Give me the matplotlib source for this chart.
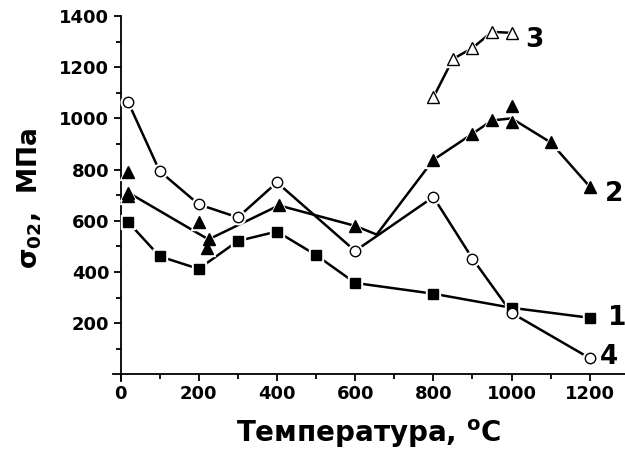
import numpy as np
import matplotlib
matplotlib.use('agg')
import matplotlib.pyplot as plt

plt.rcParams['font.family'] = ['DejaVu Sans']
plt.rcParams['font.weight'] = 'bold'
plt.rcParams['mathtext.default'] = 'bf'

# curve 1: filled squares
t1 = [20, 100, 200, 300, 400, 500, 600, 800, 1000, 1200]
s1 = [594, 461, 412, 521, 558, 466, 357, 315, 260, 221]

# curve 2: filled triangles (line vertices)
t2_line = [20, 225, 405, 600, 655, 800, 900, 950, 1000, 1100, 1200]
s2_line = [710, 527, 660, 580, 546, 838, 940, 992, 1000, 906, 733]
# curve 2: triangle markers
t2_pts = [20, 20, 20, 200, 225, 220, 405, 600, 800, 900, 950, 1000, 1000, 1100, 1200]
s2_pts = [790, 710, 698, 597, 527, 494, 660, 580, 838, 940, 992, 1050, 986, 906, 733]

# curve 3: open triangles
t3 = [800, 850, 900, 950, 1000]
s3 = [1082, 1232, 1275, 1338, 1334]

# curve 4: open circles
t4 = [20, 100, 200, 300, 400, 600, 800, 900, 1000, 1200]
s4 = [1062, 794, 664, 613, 750, 482, 693, 452, 240, 63]

labels = ['1', '2', '3', '4']
label_pos = [(1246, 220), (1238, 703), (1036, 1308), (1226, 66)]

lw = 1.8
fig = plt.figure(figsize=(6.25, 4.54), dpi=100)
ax = fig.add_axes([0.1803, 0.1608, 0.8197, 0.804])


def draw(x, y, marker, ms, fill, xm=None, ym=None):
    if xm is None:
        xm, ym = x, y
    ax.plot(x, y, '-', color='black', lw=lw, zorder=2)
    # white halo -> small gaps round the symbols
    ax.plot(xm, ym, linestyle='none', marker=marker, ms=ms + 3, mfc='white', mec='white', zorder=3)
    ax.plot(xm, ym, linestyle='none', marker=marker, ms=ms, mfc=fill, mec='black', mew=1.0, zorder=4)


draw(t1, s1, 's', 6.5, 'black')
draw(t2_line, s2_line, '^', 8, 'black', t2_pts, s2_pts)
draw(t4, s4, 'o', 7.5, 'white')
draw(t3, s3, '^', 8, 'white')

for lab, (x, y) in zip(labels, label_pos):
    ax.text(x, y, lab, fontsize=19, fontweight='bold', ha='left', va='center')

ax.set_xlim(-20, 1290)
ax.set_ylim(-26, 1400)
ax.spines['left'].set_position(('data', 0))
ax.spines['bottom'].set_position(('data', 0))
ax.spines['top'].set_visible(False)
ax.spines['right'].set_visible(False)
for sp in ('left', 'bottom'):
    ax.spines[sp].set_linewidth(1.3)

ax.set_xticks(np.arange(0, 1201, 200))
ax.set_xticks(np.arange(100, 1201, 200), minor=True)
ax.set_yticks(np.arange(200, 1401, 200))
ax.set_yticks(np.arange(100, 1401, 200), minor=True)
ax.tick_params(which='major', direction='out', length=5, width=1.3, labelsize=13, pad=3)
ax.tick_params(which='minor', direction='out', length=3.5, width=1.3)
for lbl in ax.get_xticklabels() + ax.get_yticklabels():
    lbl.set_fontweight('bold')

ax.set_xlabel('Температура, $^{o}$C', fontsize=20, fontweight='bold')
ax.set_ylabel('σ$_{02}$,  МПа', fontsize=19, fontweight='bold')
ax.xaxis.set_label_coords(0.50, -0.10)
ax.yaxis.set_label_coords(-0.135, 0.5)

plt.savefig('out.png', dpi=100)
